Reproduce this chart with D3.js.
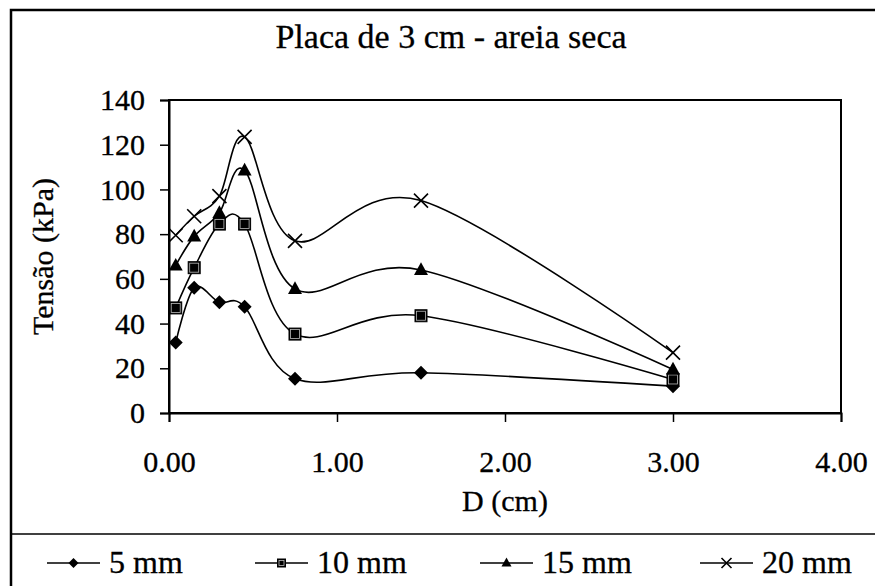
<!DOCTYPE html>
<html>
<head>
<meta charset="utf-8">
<script src="https://cdn.jsdelivr.net/npm/d3@7"></script>
<style>
  body { margin: 0; background: #fff; }
  svg { display: block; }
  text { font-family: "Liberation Serif", "Times New Roman", serif; fill: #000; stroke: #000; stroke-width: 0.3px; }
</style>
</head>
<body>
<svg id="chart" width="875" height="586"></svg>
<script>
// Distance from the plate (cm)
const distances = [0.04, 0.15, 0.30, 0.45, 0.75, 1.50, 3.00];
// Stress (kPa) for each settlement level
const stress5mm  = [31.5, 56, 49.5, 47.5, 15.3, 18, 12];
const stress10mm = [47, 65, 84.5, 84.5, 35.3, 43.5, 15];
const stress15mm = [66, 79, 89.5, 108.5, 55.5, 64, 19.5];
const stress20mm = [79.5, 88, 97, 123.5, 77, 95, 27];
const seriesNames = ["5 mm", "10 mm", "15 mm", "20 mm"];
const markerTypes = ["diamond", "square", "triangle", "cross"];
const xTickValues = [0, 1, 2, 3, 4];
const yTickValues = [0, 20, 40, 60, 80, 100, 120, 140];

const seriesValues = [stress5mm, stress10mm, stress15mm, stress20mm];
const series = seriesNames.map((name, i) => ({
  name,
  marker: markerTypes[i],
  points: distances.map((d, j) => ({ x: d, y: seriesValues[i][j] }))
}));

const svg = d3.select("#chart");
const plot = { left: 169, right: 841, top: 100, bottom: 413 };

const x = d3.scaleLinear().domain([0, 4]).range([plot.left, plot.right]);
const y = d3.scaleLinear().domain([0, 140]).range([plot.bottom, plot.top]);

// outer chart frame (runs past the right and bottom edges)
svg.append("rect")
  .attr("x", 11).attr("y", 10).attr("width", 880).attr("height", 600)
  .attr("fill", "none").attr("stroke", "#000").attr("stroke-width", 2.5);

// title
svg.append("text")
  .attr("x", 451).attr("y", 48)
  .attr("text-anchor", "middle")
  .style("font-size", "34px")
  .text("Placa de 3 cm - areia seca");

// plot-area box
svg.append("rect")
  .attr("x", plot.left).attr("y", plot.top)
  .attr("width", plot.right - plot.left).attr("height", plot.bottom - plot.top)
  .attr("fill", "none").attr("stroke", "#000").attr("stroke-width", 2);

// axes
const yAxis = d3.axisLeft(y).tickValues(yTickValues).tickSize(9).tickPadding(15)
  .tickFormat(d3.format("d"));
const xAxis = d3.axisBottom(x).tickValues(xTickValues).tickSize(9).tickPadding(29)
  .tickFormat(d3.format(".2f"));

const gy = svg.append("g").attr("transform", `translate(${plot.left},0)`).call(yAxis);
const gx = svg.append("g").attr("transform", `translate(0,${plot.bottom})`).call(xAxis);
[gx, gy].forEach(g => {
  g.select(".domain").attr("stroke", "#000").attr("stroke-width", 2);
  g.selectAll(".tick line").attr("stroke", "#000").attr("stroke-width", 1.5);
  g.selectAll(".tick text")
    .attr("fill", "#000")
    .style("font-family", '"Liberation Serif", serif')
    .style("font-size", "30px");
});

// axis titles
svg.append("text")
  .attr("x", (plot.left + plot.right) / 2).attr("y", 511)
  .attr("text-anchor", "middle")
  .style("font-size", "30px")
  .text("D (cm)");

svg.append("text")
  .attr("transform", `translate(53,${(plot.top + plot.bottom) / 2}) rotate(-90)`)
  .attr("text-anchor", "middle")
  .style("font-size", "30px")
  .text("Tensão (kPa)");

// marker drawing
function drawMarker(g, type, size) {
  const s = size;
  if (type === "diamond") {
    g.append("path")
      .attr("d", `M0,${-s / 2}L${s / 2},0L0,${s / 2}L${-s / 2},0Z`)
      .attr("fill", "#000");
  } else if (type === "square") {
    g.append("rect")
      .attr("x", -s / 2).attr("y", -s / 2).attr("width", s).attr("height", s)
      .attr("fill", "#000").attr("stroke", "#000").attr("stroke-width", 1);
    g.append("rect")
      .attr("x", -s / 2 + 1.5).attr("y", -s / 2 + 1.5).attr("width", s - 3).attr("height", s - 3)
      .attr("fill", "none").attr("stroke", "#bbb").attr("stroke-width", 0.8);
  } else if (type === "triangle") {
    const h = s * 0.9;
    g.append("path")
      .attr("d", `M0,${-h * 0.6}L${s / 2},${h * 0.4}L${-s / 2},${h * 0.4}Z`)
      .attr("fill", "#000");
  } else if (type === "cross") {
    const r = s / 2;
    g.append("path")
      .attr("d", `M${-r},${-r}L${r},${r}M${-r},${r}L${r},${-r}`)
      .attr("stroke", "#000").attr("stroke-width", 1.6).attr("fill", "none");
  }
}

// smoothed series lines
const line = d3.line()
  .x(d => x(d.x))
  .y(d => y(d.y))
  .curve(d3.curveCardinal.tension(0));

const markerSizes = { diamond: 14, square: 12, triangle: 14, cross: 14 };

series.forEach(s => {
  svg.append("path")
    .datum(s.points)
    .attr("d", line)
    .attr("fill", "none")
    .attr("stroke", "#000")
    .attr("stroke-width", 1.6);
});
series.forEach(s => {
  s.points.forEach(p => {
    const g = svg.append("g").attr("transform", `translate(${x(p.x)},${y(p.y)})`);
    drawMarker(g, s.marker, markerSizes[s.marker]);
  });
});

// legend
svg.append("line")
  .attr("x1", 11).attr("x2", 875).attr("y1", 534).attr("y2", 534)
  .attr("stroke", "#000").attr("stroke-width", 1.5);

const legendX = [47, 255, 480, 700];
const legendY = 563;
const legendMarkerSizes = { diamond: 10, square: 8, triangle: 10, cross: 10 };
series.forEach((s, i) => {
  const g = svg.append("g").attr("transform", `translate(${legendX[i]},${legendY})`);
  g.append("line").attr("x1", 0).attr("x2", 53).attr("y1", 0).attr("y2", 0)
    .attr("stroke", "#000").attr("stroke-width", 1.6);
  const m = g.append("g").attr("transform", "translate(26.5,0)");
  drawMarker(m, s.marker, legendMarkerSizes[s.marker]);
  g.append("text")
    .attr("x", 62).attr("y", 10)
    .style("font-size", "32px")
    .text(s.name);
});
</script>
</body>
</html>
